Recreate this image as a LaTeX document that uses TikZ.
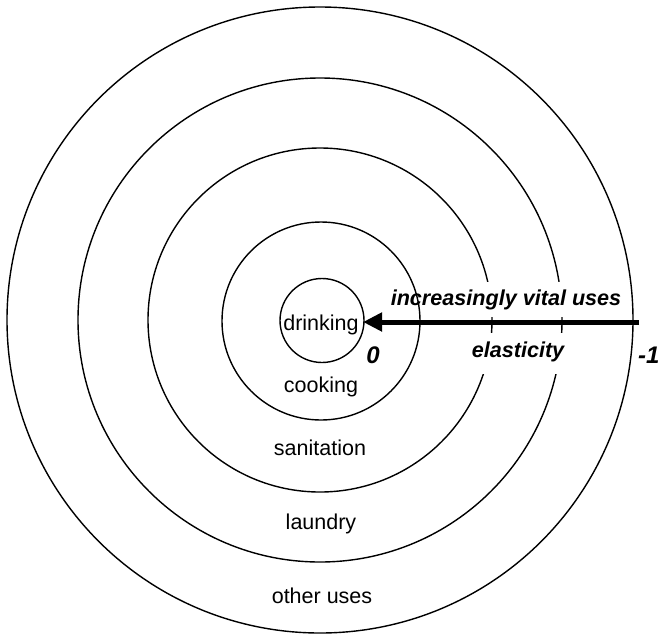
\documentclass[tikz,border=0pt]{standalone}
\usepackage{fontspec}
\setmainfont{Liberation Sans}
\usetikzlibrary{arrows.meta}
\begin{document}
\begin{tikzpicture}[x=1pt,y=-1pt,
  ring/.style={draw=black, line width=1.4pt},
  lbl/.style={font=\fontsize{21.5}{24}\selectfont, inner sep=0pt, anchor=base},
  bilbl/.style={font=\fontsize{21.6}{24}\selectfont\bfseries\itshape, inner sep=0pt, anchor=base},
  numlbl/.style={font=\fontsize{24}{26}\selectfont\bfseries\itshape, inner sep=0pt},
  maskbox/.style={bilbl, fill=white, inner xsep=3pt}]
\useasboundingbox (0,0) rectangle (660,635);
\begin{scope}
\clip (0,0) rectangle (660,635);
\coordinate (c) at (320,320);
\draw[ring] (c) circle[radius=313];
\draw[ring] (c) circle[radius=242];
\draw[ring] (c) circle[radius=172];
% labels that mask the rings
\node[maskbox, text height=23pt, text depth=12pt] (vital) at (506,305) {increasingly vital uses};
\node[maskbox, text height=24pt, text depth=17pt] (elast) at (518,357) {elasticity};
\draw[ring] (321,321) circle[radius=99];
\draw[ring] (322,320.5) circle[radius=42];
% arrow
\coordinate (start) at (639,322);
\coordinate (tip) at (363,322);
\draw[line width=5pt, -{Triangle[length=19pt,width=18pt]}] (start) -- (tip);
% ring labels
\node[lbl] (drink) at (321,330) {drinking};
\node[lbl] (cook) at (321,392) {cooking};
\node[lbl] (sanit) at (320,455) {sanitation};
\node[lbl] (laund) at (321,529) {laundry};
\node[lbl] (other) at (322,603) {other uses};
\node[numlbl, anchor=base] (zero) at (373,363) {0};
\node[numlbl, anchor=base west] (minus) at (638,363) {-1};
\end{scope}
\end{tikzpicture}
\end{document}
